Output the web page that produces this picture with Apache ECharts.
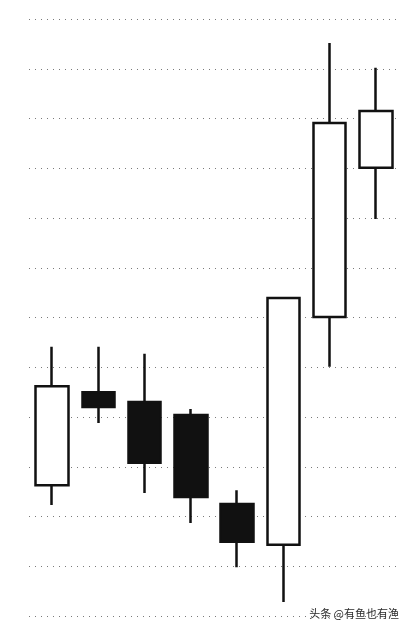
<!DOCTYPE html>
<html>
<head>
<meta charset="utf-8">
<script src="https://cdn.jsdelivr.net/npm/echarts@6/dist/echarts.min.js"></script>
<style>
html, body { margin: 0; padding: 0; background: #fff; }
#main { width: 406px; height: 628px; }
</style>
</head>
<body>
<div id="main"></div>
<script>
// K线数据 (开, 收, 低, 高)
const days = ['1', '2', '3', '4', '5', '6', '7', '8'];
const openVals = [26.3, 45.0, 43.0, 40.4, 22.5, 14.3, 60.1, 90.1];
const closeVals = [46.2, 42.0, 30.8, 23.9, 14.9, 63.9, 99.1, 101.5];
const lowVals = [22.3, 38.8, 24.7, 18.7, 9.8, 2.8, 50.1, 79.8];
const highVals = [54.1, 54.1, 52.7, 41.6, 25.3, 63.9, 115.2, 110.2];

let chart = echarts.init(document.getElementById('main'));

let kData = days.map((d, i) => [openVals[i], closeVals[i], lowVals[i], highVals[i]]);

let option = {
	backgroundColor: '#fff',
	animation: false,
	grid: {
		left: 29,
		right: 7,
		top: 19,
		bottom: 12
	},
	xAxis: {
		type: 'category',
		data: days,
		boundaryGap: true,
		axisLine: { show: false },
		axisTick: { show: false },
		axisLabel: { show: false }
	},
	yAxis: {
		type: 'value',
		min: 0,
		max: 120,
		interval: 10,
		axisLine: { show: false },
		axisTick: { show: false },
		axisLabel: { show: false },
		splitLine: {
			show: true,
			lineStyle: { color: '#7a7a7a', width: 1, type: [1, 5] }
		}
	},
	series: [{
		type: 'candlestick',
		data: kData,
		barWidth: 33,
		itemStyle: {
			color: '#fff',
			color0: '#111',
			borderColor: '#111',
			borderColor0: '#111',
			borderWidth: 2.5
		}
	}],
	graphic: [{
		type: 'text',
		right: 6,
		top: 607,
		style: {
			text: '头条 @有鱼也有渔',
			font: '11px "Noto Sans CJK SC"',
			fill: '#2a2a2a',
			stroke: '#fff',
			lineWidth: 2
		}
	}]
};

chart.setOption(option);
</script>
</body>
</html>
